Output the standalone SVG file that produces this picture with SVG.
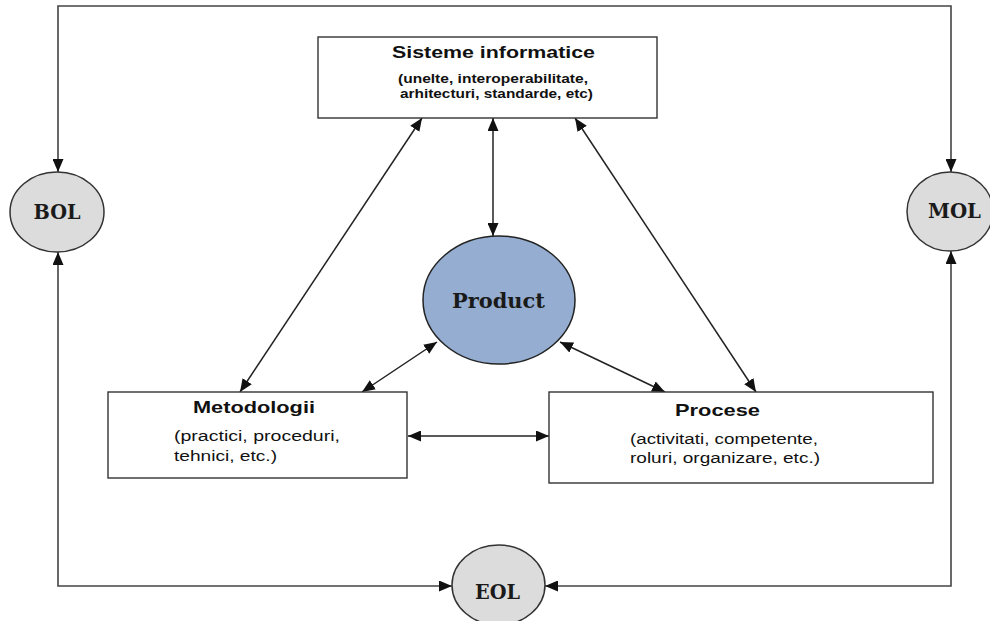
<svg xmlns="http://www.w3.org/2000/svg" width="990" height="621" viewBox="0 0 990 621">
  <style>
    .box { fill: #ffffff; stroke: #333333; stroke-width: 1.4; }
    .life { fill: #dcdcdc; stroke: #333333; stroke-width: 1.5; }
    .prod { fill: #94add0; stroke: #222222; stroke-width: 1.5; }
    .frame { fill: none; stroke: #444444; stroke-width: 1.6; marker-start: url(#arr); marker-end: url(#arr); }
    .link { fill: none; stroke: #222222; stroke-width: 1.5; marker-start: url(#arr); marker-end: url(#arr); }
    .title { font-family: "Liberation Sans", Arial, sans-serif; font-weight: bold; font-size: 17px; fill: #111111; }
    .sub { font-family: "Liberation Sans", Arial, sans-serif; font-size: 14px; fill: #111111; }
    .subb { font-family: "Liberation Sans", Arial, sans-serif; font-weight: bold; font-size: 12.5px; fill: #111111; }
    .lab { font-family: "DejaVu Serif", "Liberation Serif", serif; font-weight: bold; font-size: 21px; fill: #1a1a1a; text-anchor: middle; }
  </style>
  <defs>
    <marker id="arr" viewBox="0 0 13 11" refX="13" refY="5.5" markerWidth="13" markerHeight="11" markerUnits="userSpaceOnUse" orient="auto-start-reverse">
      <path d="M0,0 L13,5.5 L0,11 z" fill="#111111"/>
    </marker>
  </defs>

  <rect width="990" height="621" fill="#ffffff"/>

  <!-- connectors -->
  <g id="connectors">
    <path class="frame" d="M58,172 V6 H951 V172"/>
    <path class="frame" d="M58,252 V586 H452"/>
    <path class="frame" d="M951,251 V586 H545"/>
    <line class="link" x1="422" y1="118" x2="240" y2="392"/>
    <line class="link" x1="493" y1="118" x2="493" y2="236"/>
    <line class="link" x1="575" y1="118" x2="756" y2="392"/>
    <line class="link" x1="362" y1="392" x2="437" y2="342"/>
    <line class="link" x1="560" y1="342" x2="665" y2="392"/>
    <line class="link" x1="408" y1="436" x2="549" y2="436"/>
  </g>

  <g id="sisteme">
    <rect class="box" x="318" y="37" width="339" height="81"/>
    <text class="title" x="392" y="58" textLength="203" lengthAdjust="spacingAndGlyphs">Sisteme informatice</text>
    <text class="subb" x="398" y="83" textLength="190" lengthAdjust="spacingAndGlyphs">(unelte, interoperabilitate,</text>
    <text class="subb" x="400" y="98" textLength="193" lengthAdjust="spacingAndGlyphs">arhitecturi, standarde, etc)</text>
  </g>

  <g id="metodologii">
    <rect class="box" x="108" y="392" width="299" height="86"/>
    <text class="title" x="193" y="413" textLength="122" lengthAdjust="spacingAndGlyphs">Metodologii</text>
    <text class="sub" x="174" y="441" textLength="166" lengthAdjust="spacingAndGlyphs">(practici, proceduri,</text>
    <text class="sub" x="174" y="461" textLength="103" lengthAdjust="spacingAndGlyphs">tehnici, etc.)</text>
  </g>

  <g id="procese">
    <rect class="box" x="549" y="392" width="384" height="91"/>
    <text class="title" x="675" y="416" textLength="85" lengthAdjust="spacingAndGlyphs">Procese</text>
    <text class="sub" x="630" y="444" textLength="188" lengthAdjust="spacingAndGlyphs">(activitati, competente,</text>
    <text class="sub" x="630" y="463" textLength="190" lengthAdjust="spacingAndGlyphs">roluri, organizare, etc.)</text>
  </g>

  <g id="product">
    <ellipse class="prod" cx="499" cy="300" rx="76" ry="64"/>
    <text class="lab" x="498.5" y="308" textLength="93" lengthAdjust="spacingAndGlyphs">Product</text>
  </g>

  <g id="bol">
    <ellipse class="life" cx="57" cy="212" rx="47" ry="40"/>
    <text class="lab" x="57" y="219" textLength="47" lengthAdjust="spacingAndGlyphs">BOL</text>
  </g>

  <g id="mol">
    <ellipse class="life" cx="950" cy="211.5" rx="43" ry="39.5"/>
    <text class="lab" x="954.5" y="218" textLength="53" lengthAdjust="spacingAndGlyphs">MOL</text>
  </g>

  <g id="eol">
    <ellipse class="life" cx="498.5" cy="585" rx="46.5" ry="40"/>
    <text class="lab" x="497.5" y="599" textLength="45" lengthAdjust="spacingAndGlyphs">EOL</text>
  </g>
</svg>
